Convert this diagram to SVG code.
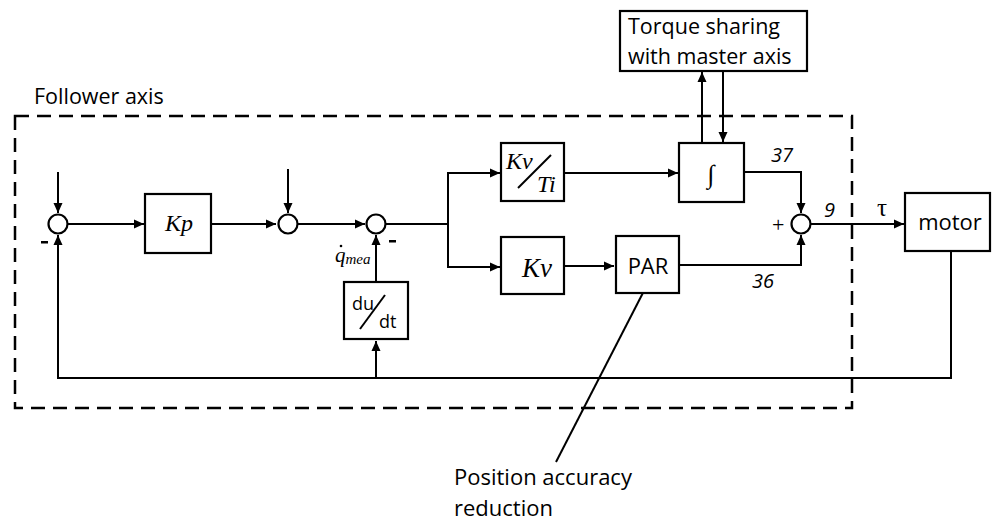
<svg xmlns="http://www.w3.org/2000/svg" width="995" height="521" viewBox="0 0 995 521">
<style>
.ln{fill:none;stroke:#000;stroke-width:2}
.bx{fill:#fff;stroke:#000;stroke-width:2.2}
.sj{fill:#fff;stroke:#000;stroke-width:2.2}
.dash{fill:none;stroke:#000;stroke-width:2.5;stroke-dasharray:14 8}
.sans{font-family:"Open Sans","Liberation Sans",sans-serif;fill:#000}
.ser{font-family:"Liberation Serif","DejaVu Serif",serif;font-style:italic;fill:#000}
.num{font-family:"Open Sans","Liberation Sans",sans-serif;font-style:italic;fill:#000}
</style>
<defs>
<marker id="ar" markerWidth="10" markerHeight="10" refX="10" refY="5" orient="auto" markerUnits="userSpaceOnUse">
<path d="M0,0.5 L10,5 L0,9.5 Z" fill="#000"/>
</marker>
</defs>
<rect width="995" height="521" fill="#fff"/>
<g id="follower-axis">
<rect class="dash" x="15" y="116" width="837" height="292"/>
<text class="sans" x="34" y="104" font-size="21.5">Follower axis</text>
</g>
<g id="connectors">
<path class="ln" d="M58,172 V213" marker-end="url(#ar)"/>
<path class="ln" d="M58,378 V235" marker-end="url(#ar)"/>
<path class="ln" d="M67,224 H144" marker-end="url(#ar)"/>
<path class="ln" d="M211,224 H276" marker-end="url(#ar)"/>
<path class="ln" d="M288,169 V213" marker-end="url(#ar)"/>
<path class="ln" d="M297,224 H365" marker-end="url(#ar)"/>
<path class="ln" d="M376,282 V235" marker-end="url(#ar)"/>
<path class="ln" d="M376,378 V341" marker-end="url(#ar)"/>
<path class="ln" d="M385,224 H448"/>
<path class="ln" d="M448,173 V267"/>
<path class="ln" d="M447,173 H500" marker-end="url(#ar)"/>
<path class="ln" d="M447,267 H500" marker-end="url(#ar)"/>
<path class="ln" d="M564,173 H678" marker-end="url(#ar)"/>
<path class="ln" d="M564,266 H614" marker-end="url(#ar)"/>
<path class="ln" d="M702,143 V72" marker-end="url(#ar)"/>
<path class="ln" d="M723,71 V142" marker-end="url(#ar)"/>
<path class="ln" d="M744,172 H801 V213" marker-end="url(#ar)"/>
<path class="ln" d="M679,265 H801 V235" marker-end="url(#ar)"/>
<path class="ln" d="M810,224 H904" marker-end="url(#ar)"/>
<path class="ln" d="M951,251 V378 H57"/>
<path class="ln" d="M647,285 L556,462"/>
</g>
<g id="sum1"><circle class="sj" cx="58" cy="224" r="9.5"/><rect x="41" y="241" width="7" height="2.5" fill="#000"/></g>
<g id="Kp"><rect class="bx" x="145" y="194" width="66" height="59"/><text class="ser" x="179" y="231" font-size="24" text-anchor="middle">Kp</text></g>
<g id="sum2"><circle class="sj" cx="288" cy="224" r="9.5"/></g>
<g id="sum3"><circle class="sj" cx="376" cy="224" r="9.5"/><rect x="389" y="240" width="7" height="2.5" fill="#000"/></g>
<g id="qmea"><text class="ser" x="335" y="262" font-size="21">q<tspan font-size="15" dy="2">mea</tspan></text><circle cx="341" cy="246" r="1.3" fill="#000"/></g>
<g id="dudt"><rect class="bx" x="344" y="282" width="64" height="57"/><text class="sans" x="352" y="310" font-size="18">du</text><path class="ln" d="M360,329 L385,295" stroke-width="2.5"/><text class="sans" x="379" y="328" font-size="18">dt</text></g>
<g id="KvTi"><rect class="bx" x="501" y="143" width="63" height="58"/><text class="ser" x="506" y="169" font-size="24">Kv</text><path class="ln" d="M518,188 L551,155" stroke-width="2.5"/><text class="ser" x="537" y="192" font-size="24">Ti</text></g>
<g id="Kv"><rect class="bx" x="501" y="237" width="63" height="57"/><text class="ser" x="537" y="277" font-size="27" text-anchor="middle">Kv</text></g>
<g id="PAR"><rect class="bx" x="616" y="236" width="63" height="57"/><text class="sans" x="648" y="274" font-size="22" text-anchor="middle">PAR</text></g>
<g id="integral"><rect class="bx" x="679" y="143" width="65" height="59"/><text x="711" y="183" font-size="26" text-anchor="middle" font-family="Liberation Serif,serif">∫</text></g>
<g id="torque"><rect class="bx" x="620" y="11" width="187" height="60"/><text class="sans" x="628" y="34" font-size="21.5">Torque sharing</text><text class="sans" x="628" y="64" font-size="21.5">with master axis</text></g>
<g id="sum4"><circle class="sj" cx="801" cy="224" r="9.5"/><text x="772" y="232" font-size="22" font-family="Liberation Serif,serif">+</text></g>
<g id="labels">
<text class="num" x="771" y="162" font-size="20">37</text>
<text class="num" x="752" y="288" font-size="20">36</text>
<text class="num" x="824" y="217" font-size="20">9</text>
<text x="877" y="216" font-size="25" font-family="Liberation Serif,serif">τ</text>
</g>
<g id="motor"><rect class="bx" x="905" y="193" width="85" height="58"/><text class="sans" x="950" y="230" font-size="22" text-anchor="middle">motor</text></g>
<g id="par-note"><text class="sans" x="454" y="485" font-size="22">Position accuracy</text><text class="sans" x="454" y="516" font-size="22">reduction</text></g>
</svg>
